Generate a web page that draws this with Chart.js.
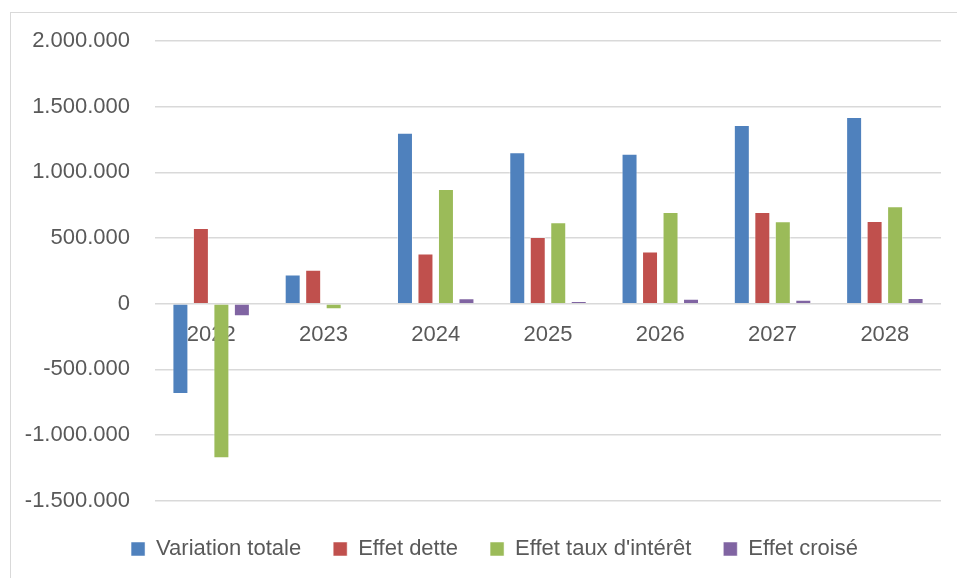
<!DOCTYPE html>
<html>
<head>
<meta charset="utf-8">
<script src="https://cdn.jsdelivr.net/npm/chart.js"></script>
<style>
  body { margin: 0; background: #fff; overflow: hidden; }
  #wrap { position: relative; width: 957px; height: 578px; }
  #frame { position: absolute; left: 10px; top: 12px; width: 960px; height: 600px; border: 1px solid #d9d9d9; box-sizing: border-box; }
  canvas { position: absolute; left: 0; top: 0; }
</style>
</head>
<body>
<div id="wrap">
  <div id="frame"></div>
  <canvas id="myChart" width="957" height="578"></canvas>
</div>
<script>
var years = ["2022", "2023", "2024", "2025", "2026", "2027", "2028"];
var variationTotale = [-687000, 222000, 1302000, 1154000, 1141000, 1361000, 1422000];
var effetDette = [576000, 258000, 383000, 508000, 398000, 699000, 630000];
var effetTaux = [-1177000, -41000, 873000, 620000, 699000, 628000, 743000];
var effetCroise = [-95000, 0, 41000, 20000, 38000, 31000, 44000];
var seriesNames = ["Variation totale", "Effet dette", "Effet taux d'intérêt", "Effet croisé"];
var barColors = ["#4f81bd", "#c0504d", "#9bbb59", "#8064a2"];

function fmt(v) {
  var s = Math.abs(v).toString().replace(/\B(?=(\d{3})+(?!\d))/g, ".");
  return (v < 0 ? "-" : "") + s;
}

var allData = [variationTotale, effetDette, effetTaux, effetCroise];
var datasets = allData.map(function (d, i) {
  return {
    label: seriesNames[i],
    data: d,
    backgroundColor: barColors[i],
    borderColor: "rgba(255,255,255,0.5)",
    borderWidth: 1,
    categoryPercentage: 0.73,
    barPercentage: 0.78
  };
});

// nudge the legend to the right, like in the excel chart
var legendShift = {
  id: "legendShift",
  afterLayout: function (chart) {
    chart.legend.left += 14;
    chart.legend.right += 14;
  }
};

Chart.defaults.font.family = "'Liberation Sans', Arial, sans-serif";
Chart.defaults.color = "#595959";

new Chart("myChart", {
  type: "bar",
  data: { labels: years, datasets: datasets },
  plugins: [legendShift],
  options: {
    responsive: false,
    animation: false,
    layout: { padding: { left: 20, right: 16, top: 41, bottom: 8 } },
    plugins: {
      tooltip: { enabled: false },
      legend: {
        position: "bottom",
        title: { display: true, text: "", font: { size: 1 }, padding: { top: 0, bottom: 4 } },
        labels: {
          font: { size: 22 },
          boxWidth: 14,
          boxHeight: 14,
          padding: 32
        }
      }
    },
    scales: {
      x: {
        position: { y: 0 },
        grid: { display: false },
        border: { display: false },
        ticks: { font: { size: 22 }, padding: 10 }
      },
      y: {
        min: -1500000,
        max: 2000000,
        afterFit: function (scale) { scale.width = 135; },
        grid: { color: "#d9d9d9", lineWidth: 1.5, drawTicks: false },
        border: { display: false },
        ticks: {
          stepSize: 500000,
          font: { size: 22 },
          padding: 25,
          callback: function (v) { return fmt(v); }
        }
      }
    }
  }
});
</script>
</body>
</html>
